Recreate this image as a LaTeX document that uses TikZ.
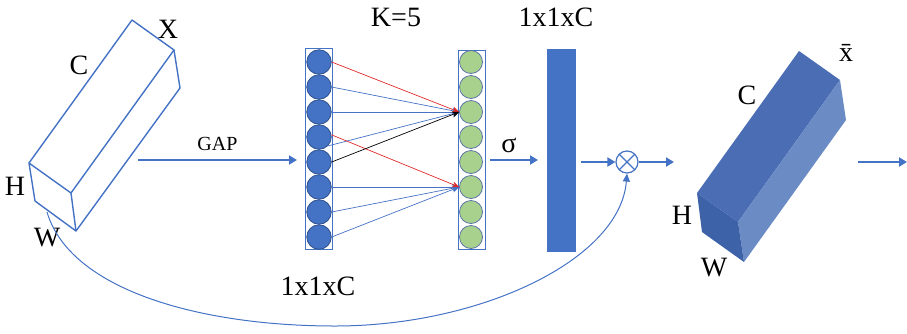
\documentclass[tikz,border=0pt]{standalone}
\usepackage{fontspec}
\setmainfont{Liberation Serif}
\usetikzlibrary{arrows.meta, calc}
\definecolor{ppblue}{HTML}{4472C4}
\definecolor{ppdark}{HTML}{2F528F}
\definecolor{ppgreen}{HTML}{A9D18E}
\definecolor{pptop}{HTML}{4A6DB4}
\definecolor{ppfront}{HTML}{3E62A8}
\definecolor{ppside}{HTML}{6B8BC5}
\definecolor{ppred}{HTML}{E02A2A}

\begin{document}
\begin{tikzpicture}[
                x=1pt, y=-1pt,
                lbl/.style={inner sep=0pt, font=\fontsize{28}{30}\selectfont},
                small/.style={inner sep=0pt, font=\fontsize{20}{22}\selectfont},
                cell/.style={circle, draw=ppdark, fill=ppblue, line width=0.8pt, minimum size=24.5pt, inner sep=0pt},
                gcell/.style={circle, draw=ppdark!80, fill=ppgreen, line width=0.8pt, minimum size=23pt, inner sep=0pt},
                column/.style={draw=ppblue, line width=1pt},
                wire/.style={draw=ppblue, line width=0.7pt, -{Stealth[length=7pt, width=6pt]}},
                line/.style={draw=ppblue, line width=2.5pt, -{Triangle[length=8pt, width=9pt]}},
                edge/.style={draw=ppblue, line width=1.4pt, line join=round}
            ]
                \useasboundingbox (0,0) rectangle (907,333);

                % Input feature map X
                \draw[edge] (29,163) -- (71,193) -- (76,231) -- (35,201) -- cycle;
                \draw[edge] (29,163) -- (132,20) -- (174,50) -- (71,193);
                \draw[edge] (174,50) -- (180,88) -- (76,231);
                \node[lbl] (cC) at (79,65) {C};
                \node[lbl] (cX) at (168,29) {X};
                \node[lbl] (cH) at (15,186) {H};
                \node[lbl] (cW) at (47,238) {W};
                \coordinate (skip) at (47,212);

                % GAP
                \coordinate (gapin) at (138,160);
                \coordinate (gapout) at (297,160);
                \path[line] (gapin) -- node[small, above=8pt] {GAP} (gapout);

                % 1x1xC column and 1D conv
                \draw[column] (305,48) rectangle (332,249);
                \draw[column] (458,50) rectangle (485,249);
                \foreach \i in {1,...,8} {
                    \node[cell] (l\i) at (319,{62+25*(\i-1)}) {};
                    \node[gcell] (r\i) at (471,{62+25*(\i-1)}) {};
                }
                \node[lbl] (kk) at (396,17) {K=5};
                \node[lbl] (dim1) at (318,286) {1x1xC};

                \path[wire] (l2.east) -- (r3.west);
                \path[wire] (l3.east) -- (r3.west);
                \path[wire] (l4.south east) -- (r3.west);
                \path[wire] (l6.east) -- (r6.west);
                \path[wire] (l7.east) -- (r6.west);
                \path[wire] (l8.east) -- (r6.west);
                \path[wire, draw=ppred] (l1.east) -- (r3.west);
                \path[wire, draw=ppred] (l4.10) -- (r6.west);
                \path[wire, draw=black] (l5.east) -- (r3.west);

                % sigma and weights
                \node[draw=ppblue, fill=ppblue, minimum width=28pt, minimum height=202pt, inner sep=0pt] (bar) at (561,150) {};
                \node[lbl] (dim2) at (556,17) {1x1xC};
                \coordinate (sgin) at (490,160);
                \coordinate (sgout) at (538,160);
                \path[line] (sgin) -- node[lbl, above=6pt, xshift=-5pt] {σ} (sgout);

                \node[circle, draw=ppblue, line width=1.2pt, minimum size=22pt, inner sep=0pt,
                      path picture={\draw[ppblue, line width=1.2pt]
                          (path picture bounding box.north west) -- (path picture bounding box.south east)
                          (path picture bounding box.south west) -- (path picture bounding box.north east);}] (ot) at (627,162) {};
                \coordinate (wout) at (581,162);
                \path[line] (wout) -- (ot.west);
                \coordinate (otout) at (674,162);
                \path[line] (ot.east) -- (otout);
                \path[draw=ppblue, line width=1pt, -{Triangle[length=8pt, width=7pt]}]
                    (skip) .. controls (70,290) and (200,326) .. (335,326)
                    .. controls (480,326) and (620,260) .. (ot.south);

                % Output feature map
                \fill[pptop] (697,193) -- (738,222) -- (840,80) -- (799,51) -- cycle;
                \fill[ppside] (738,222) -- (744,262) -- (846,120) -- (840,80) -- cycle;
                \fill[ppfront] (697,193) -- (738,222) -- (744,262) -- (702,232) -- cycle;
                \node[lbl] (oC) at (747,95) {C};
                \node[lbl] (oX) at (846,53) {\=x};
                \node[lbl] (oH) at (682,215) {H};
                \node[lbl] (oW) at (714,268) {W};
                \coordinate (outa) at (858,162);
                \coordinate (outb) at (907,162);
                \path[line] (outa) -- (outb);
            \end{tikzpicture}
\end{document}
